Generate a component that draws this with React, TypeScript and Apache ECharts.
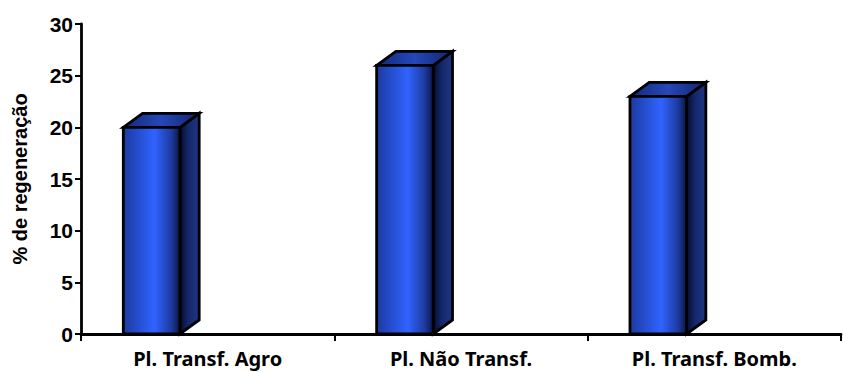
import React, { useEffect, useRef } from "react";
import * as echarts from "echarts";

const categories = ["Pl. Transf. Agro", "Pl. Não Transf.", "Pl. Transf. Bomb."];
const regeneration = [20, 26, 23];
const axisTitle = "% de regeneração";

const hGrad = (stops: [number, string][]) =>
  new echarts.graphic.LinearGradient(
    0, 0, 1, 0,
    stops.map(([offset, color]) => ({ offset, color }))
  );

// Column with a visible top and right face, offset left inside its category band.
function renderColumn(params: any, api: any) {
  const band = api.size([1, 0])[0];
  const [cx, yTop] = api.coord([api.value(0), api.value(1)]);
  const [, yBase] = api.coord([api.value(0), 0]);
  const x0 = cx - band * 0.333;
  const w = band * 0.2235;
  const x1 = x0 + w;
  const dx = band * 0.076;
  const dy = 14;
  const stroke = { stroke: "#000", lineWidth: 2.8, lineJoin: "miter" as const };
  return {
    type: "group",
    children: [
      {
        type: "polygon",
        shape: { points: [[x1, yTop], [x1 + dx, yTop - dy], [x1 + dx, yBase - dy], [x1, yBase]] },
        style: {
          fill: hGrad([[0, "#060c2c"], [0.45, "#14286c"], [1, "#1e3684"]]),
          ...stroke,
        },
      },
      {
        type: "polygon",
        shape: { points: [[x0, yTop], [x0 + dx, yTop - dy], [x1 + dx, yTop - dy], [x1, yTop]] },
        style: {
          fill: hGrad([[0, "#14297a"], [0.5, "#2547b8"], [1, "#12246c"]]),
          ...stroke,
        },
      },
      {
        type: "rect",
        shape: { x: x0, y: yTop, width: w, height: yBase - yTop },
        style: {
          fill: hGrad([[0, "#1c3aa0"], [0.55, "#3063ff"], [0.85, "#1d3a9e"], [1, "#0b1644"]]),
          ...stroke,
        },
      },
    ],
  };
}

export default function App() {
  const ref = useRef<HTMLDivElement>(null);

  useEffect(() => {
    document.body.style.margin = "0";
    const chart = echarts.init(ref.current!, null, { renderer: "svg" });
    const axisLine = { show: true, lineStyle: { color: "#000", width: 2.8 } };
    chart.setOption({
      animation: false,
      backgroundColor: "#fff",
      grid: { left: 81, right: 2, top: 24, bottom: 38, outerBoundsMode: "none" },
      xAxis: {
        type: "category",
        data: categories,
        axisLine,
        axisTick: { show: true, alignWithLabel: false, length: 7, lineStyle: { color: "#000", width: 2 } },
        axisLabel: {
          color: "#000",
          fontFamily: "Noto Sans",
          fontWeight: "bold",
          fontSize: 20,
          margin: 14,
          interval: 0,
        },
      },
      yAxis: {
        type: "value",
        min: 0,
        max: 30,
        interval: 5,
        name: axisTitle,
        nameLocation: "middle",
        nameGap: 51,
        nameTextStyle: { color: "#000", fontFamily: "Liberation Sans", fontSize: 20, fontWeight: "bold" },
        axisLine,
        axisTick: { show: true, length: 6, lineStyle: { color: "#000", width: 2 } },
        axisLabel: {
          color: "#000",
          fontFamily: "Liberation Sans",
          fontWeight: "bold",
          fontSize: 21,
          margin: 8,
        },
        splitLine: { show: false },
      },
      series: [
        {
          type: "custom",
          renderItem: renderColumn,
          clip: false,
          encode: { x: 0, y: 1 },
          data: categories.map((_, i) => [i, regeneration[i]]),
          z: 1,
        },
      ],
    });
    return () => chart.dispose();
  }, []);

  return <div ref={ref} style={{ width: 843, height: 372 }} />;
}
